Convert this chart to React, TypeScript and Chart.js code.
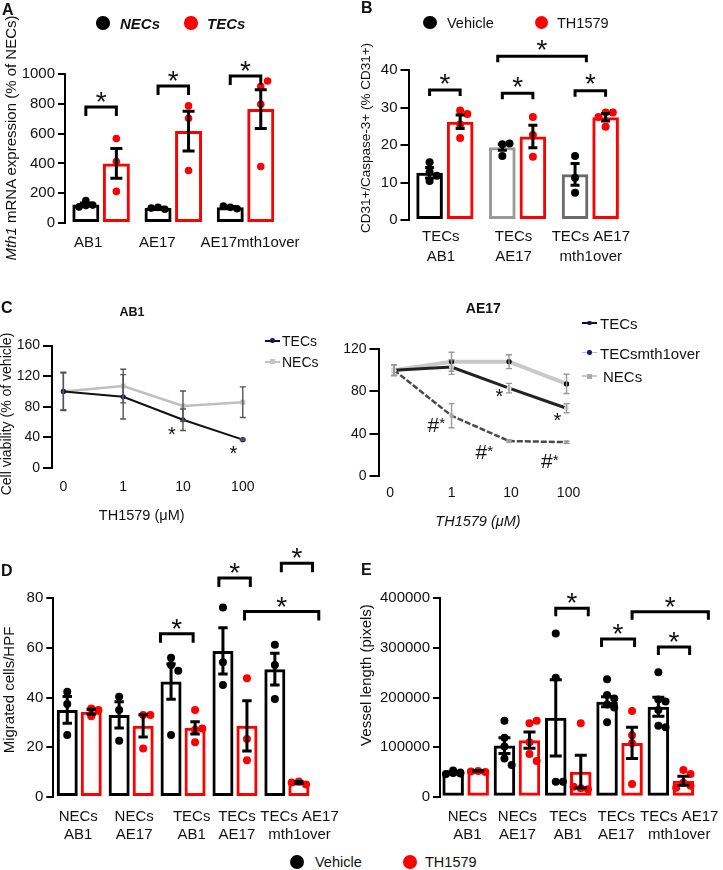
import React, { useEffect, useRef } from 'react';
import { Chart, registerables } from 'chart.js';
Chart.register(...registerables);

const FONT = "'Liberation Sans', Arial, Helvetica, sans-serif";
const RED = '#ff0000';

// ---------------- Panel A ----------------
const aGroups = ['AB1', 'AE17', 'AE17mth1over'];
const aNecMean = [125, 100, 105];
const aNecSem = [9, 5, 5];
const aTecMean = [400, 617, 765];
const aTecSem = [100, 133, 130];
const aNecPts = [[150, 120, 108, 118], [105, 92, 100], [105, 96, 114]];
const aTecPts = [[567, 413, 212], [786, 703, 352], [915, 953, 797, 379]];

// ---------------- Panel B ----------------
const bGroups = [['TECs', 'AB1'], ['TECs', 'AE17'], ['TECs AE17', 'mth1over']];
const bVehMean = [12.6, 19.4, 12.2];
const bVehSem = [1.4, 0.8, 2.9];
const bThMean = [26.2, 22.3, 27.4];
const bThSem = [1.8, 3.0, 1.0];
const bVehPts = [[15.4, 12.8, 10.4, 11.8], [17.1, 20.2, 20.4], [17.1, 11.3, 7.3]];
const bThPts = [[29.2, 28.3, 25.5, 21.9], [27.5, 22.7, 16.9], [28.7, 28.7, 27.5, 24.9]];
const bVehColors = ['#000000', '#999999', '#6b6b6b'];

// ---------------- Panel C ----------------
const doses = ['0', '1', '10', '100'];
const cAb1Tec = [100, 93, 63, 37];
const cAb1TecErr = [24, 29, 14, 1];
const cAb1Nec = [100, 107, 81, 86];
const cAb1NecErr = [25, 22, 19.6, 20];
const cAe17Tec = [100, 103, 83, 64];
const cAe17TecErr = [5, 7, 4.5, 4.3];
const cAe17Mth = [100, 57, 33, 32];
const cAe17MthErr = [5, 11.4, 1, 1];
const cAe17Nec = [100, 108, 108, 87];
const cAe17NecErr = [5, 9, 6.5, 9.1];

// ---------------- Panel D ----------------
const dGroups = [['NECs', 'AB1'], ['NECs', 'AE17'], ['TECs', 'AB1'], ['TECs', 'AE17'], ['TECs AE17', 'mth1over']];
const dVehMean = [35, 33, 46.4, 58.7, 51.4];
const dVehSem = [5.4, 5.3, 7.1, 9.3, 6.4];
const dThMean = [34.3, 28.6, 27.8, 28.6, 5.8];
const dThSem = [1.0, 4.5, 2.5, 10.1, 0.4];
const dVehPts = [[42.3, 37.4, 24.9], [40.3, 35, 22.6], [56, 53.1, 50.8, 24.9], [76.2, 54.2, 45], [61.2, 53.1, 39.4]];
const dThPts = [[35.6, 32.5, 35.0], [33, 33, 19.5], [35, 27, 27.5, 22], [47.7, 23.3, 14.8], [6.2, 5.0, 5.8]];

// ---------------- Panel E ----------------
const eGroups = [['NECs', 'AB1'], ['NECs', 'AE17'], ['TECs', 'AB1'], ['TECs', 'AE17'], ['TECs AE17', 'mth1over']];
const eVehMean = [49000, 103000, 159000, 191500, 181400];
const eVehSem = [1500, 16000, 77000, 10000, 19000];
const eThMean = [52000, 114000, 50400, 108500, 32000];
const eThSem = [800, 16500, 33000, 31500, 9000];
const eVehPts = [
  [53000, 49000, 46000, 48000, 47000],
  [153000, 119000, 101000, 77000, 64000],
  [329000, 240000, 30000, 30000],
  [237000, 205000, 198000, 186000, 180000, 150000],
  [251000, 196000, 192000, 175000, 143000, 140000],
];
const eThPts = [
  [52000, 50000, 51000],
  [148000, 153000, 110000, 86000, 72000],
  [148000, 17000, 15000, 20000],
  [173000, 124000, 107600, 25600],
  [54000, 46000, 28000, 22000, 18000],
];

// ---------------- helpers ----------------
type Box = { left: number; top: number; width: number; height: number };
type Area = { left: number; top: number; right: number; bottom: number };
type Bracket = { from: [number, number]; to: [number, number]; y: number };
type Note = { x: number; y: number; text: string; size: number; sup?: boolean };

// horizontal pixel offsets so that overlapping dots sit side by side
function swarm(ys: number[], r: number, maxOff: number): number[] {
  const placed: { x: number; y: number }[] = [];
  const step = r * 1.8;
  const minD = r * 1.8;
  const cands = [0, step, -step, 2 * step, -2 * step].filter((c) => Math.abs(c) <= maxOff + 0.01);
  return ys.map((y) => {
    let best = 0;
    let bestD = -1;
    for (const c of cands) {
      const d = placed.reduce((m, p) => Math.min(m, Math.hypot(p.x - c, p.y - y)), Infinity);
      if (d >= minD) { best = c; break; }
      if (d > bestD) { bestD = d; best = c; }
    }
    placed.push({ x: best, y });
    return best;
  });
}

function drawStar(ctx: CanvasRenderingContext2D, cx: number, cy: number, size: number) {
  ctx.font = `${size}px ${FONT}`;
  ctx.textAlign = 'center';
  ctx.textBaseline = 'alphabetic';
  ctx.fillText('*', cx, cy + 0.58 * size);
}

function decor(o: any) {
  return {
    id: 'decor',
    beforeDraw(chart: any) {
      if (!o.labelShift) return;
      try {
        const items = chart.scales.x.getLabelItems();
        if (items.__shifted) return;
        items.forEach((it: any, i: number) => { it.options.translation[0] += o.labelShift[i] || 0; });
        items.__shifted = true;
      } catch (e) { /* ignore */ }
    },
    afterDatasetsDraw(chart: any) {
      const ctx: CanvasRenderingContext2D = chart.ctx;
      const ys = chart.scales.y;
      ctx.save();
      // individual points over the bars
      chart.data.datasets.forEach((ds: any, di: number) => {
        if (!ds.points) return;
        const meta = chart.getDatasetMeta(di);
        ctx.fillStyle = ds.dotColor;
        meta.data.forEach((el: any, g: number) => {
          const vals: number[] = ds.points[g] || [];
          const py = vals.map((v) => ys.getPixelForValue(v));
          const offs = swarm(py, o.dotR, el.width / 2 - o.dotR * 0.6);
          py.forEach((y, k) => {
            ctx.beginPath();
            ctx.arc(el.x + offs[k], y, o.dotR, 0, Math.PI * 2);
            ctx.fill();
          });
        });
      });
      // error bars
      chart.data.datasets.forEach((ds: any, di: number) => {
        if (!ds.errors) return;
        const meta = chart.getDatasetMeta(di);
        ctx.strokeStyle = o.errColor;
        ctx.lineWidth = o.errWidth;
        ctx.lineCap = 'butt';
        meta.data.forEach((el: any, i: number) => {
          const e = ds.errors[i];
          if (!e) return;
          const raw = ds.data[i];
          const v = typeof raw === 'number' ? raw : raw.y;
          const x = el.x;
          const y1 = ys.getPixelForValue(v + e);
          const y2 = ys.getPixelForValue(v - e);
          ctx.beginPath();
          ctx.moveTo(x, y1); ctx.lineTo(x, y2);
          ctx.moveTo(x - o.cap, y1); ctx.lineTo(x + o.cap, y1);
          ctx.moveTo(x - o.cap, y2); ctx.lineTo(x + o.cap, y2);
          ctx.stroke();
        });
      });
      ctx.fillStyle = '#111';
      // significance brackets: positions refer to [group, series] of the bars
      if (o.brackets) {
        const m0 = chart.getDatasetMeta(0).data;
        const m1 = chart.getDatasetMeta(1).data;
        const px = (p: [number, number]) => m0[p[0]].x + p[1] * (m1[p[0]].x - m0[p[0]].x);
        ctx.strokeStyle = '#000';
        ctx.lineWidth = 3;
        ctx.lineJoin = 'miter';
        o.brackets.forEach((b: Bracket) => {
          const x1 = px(b.from);
          const x2 = px(b.to);
          const y = ys.getPixelForValue(b.y);
          ctx.beginPath();
          ctx.moveTo(x1, y + o.tick);
          ctx.lineTo(x1, y);
          ctx.lineTo(x2, y);
          ctx.lineTo(x2, y + o.tick);
          ctx.stroke();
          drawStar(ctx, (x1 + x2) / 2, y - o.starGap, o.starSize);
        });
      }
      if (o.notes) {
        const xs = chart.scales.x;
        o.notes.forEach((n: Note) => {
          const x = xs.getPixelForValue(n.x);
          const y = ys.getPixelForValue(n.y);
          if (n.text === '*') {
            drawStar(ctx, x, y, n.size);
          } else {
            ctx.font = `${n.size}px ${FONT}`;
            ctx.textAlign = 'center';
            ctx.textBaseline = 'middle';
            ctx.fillText(n.text, x, y);
            if (n.sup) drawStar(ctx, x + n.size * 0.42, y - n.size * 0.3, n.size * 0.72);
          }
        });
      }
      ctx.restore();
    },
  };
}

function yAxis(area: Area, max: number, step: number, size: number, tickLen: number) {
  return {
    type: 'linear',
    min: 0,
    max,
    ticks: { stepSize: step, font: { family: FONT, size }, color: '#111', padding: 3, callback: (v: any) => String(v) },
    border: { display: true, color: '#000', width: 2 },
    grid: { display: true, drawOnChartArea: false, drawTicks: true, tickLength: tickLen, color: '#000', lineWidth: 2 },
    afterFit: (s: any) => { s.width = area.left; },
  };
}

function baseOptions(box: Box, area: Area) {
  return {
    responsive: false,
    animation: false,
    devicePixelRatio: 1,
    events: [],
    layout: { padding: { left: 0, top: area.top, right: box.width - area.right, bottom: 0 } },
    plugins: { legend: { display: false }, tooltip: { enabled: false }, title: { display: false } },
  };
}

type BarCfg = {
  box: Box; area: Area; labels: any[]; yMax: number; yStep: number;
  means: number[][]; sems: number[][]; pts: number[][][];
  barColors: any[]; dotColors: string[];
  catPct: number; barPct: number; dotR: number; cap: number;
  brackets: Bracket[]; tick: number; starGap: number; starSize: number;
  xPad: number; lineHeight: number; tickLen: number; labelShift: number[];
};

function makeBarChart(canvas: HTMLCanvasElement, c: BarCfg) {
  const datasets = [0, 1].map((s) => ({
    type: 'bar', data: c.means[s], errors: c.sems[s], points: c.pts[s], dotColor: c.dotColors[s],
    borderColor: c.barColors[s], backgroundColor: 'rgba(255,255,255,0)', borderWidth: 3,
    borderSkipped: false, categoryPercentage: c.catPct, barPercentage: c.barPct,
  }));
  return new Chart(canvas, {
    type: 'bar',
    data: { labels: c.labels, datasets },
    options: {
      ...baseOptions(c.box, c.area),
      scales: {
        x: {
          type: 'category', offset: true,
          grid: { display: false, drawTicks: false }, border: { display: false },
          ticks: { font: { family: FONT, size: 15, lineHeight: c.lineHeight }, color: '#111', padding: c.xPad, maxRotation: 0, minRotation: 0, autoSkip: false },
          afterFit: (s: any) => { s.height = c.box.height - c.area.bottom; },
        },
        y: yAxis(c.area, c.yMax, c.yStep, 15, c.tickLen),
      },
    } as any,
    plugins: [decor({
      errColor: '#000', errWidth: 3, cap: c.cap, dotR: c.dotR, brackets: c.brackets,
      tick: c.tick, starGap: c.starGap, starSize: c.starSize, labelShift: c.labelShift,
    })],
  } as any);
}

type LineCfg = {
  box: Box; area: Area; xMin: number; xMax: number; yMax: number; yStep: number;
  datasets: any[]; notes: Note[]; errColor: string; xPad: number; labelShift?: number[];
};

function makeLineChart(canvas: HTMLCanvasElement, c: LineCfg) {
  return new Chart(canvas, {
    type: 'line',
    data: { datasets: c.datasets },
    options: {
      ...baseOptions(c.box, c.area),
      scales: {
        x: {
          type: 'linear', min: c.xMin, max: c.xMax, bounds: 'data', offset: false,
          grid: { display: false, drawTicks: false }, border: { display: false },
          afterBuildTicks: (s: any) => { s.ticks = doses.map((_, i) => ({ value: i })); },
          ticks: { font: { family: FONT, size: 14 }, color: '#111', padding: c.xPad, maxRotation: 0, autoSkip: false, callback: (v: any) => doses[v] },
          afterFit: (s: any) => { s.height = c.box.height - c.area.bottom; },
        },
        y: yAxis(c.area, c.yMax, c.yStep, 14, 9),
      },
    } as any,
    plugins: [decor({ errColor: c.errColor, errWidth: 1.4, cap: 3, notes: c.notes, labelShift: c.labelShift })],
  } as any);
}

const pts = (vals: number[]) => vals.map((v, i) => ({ x: i, y: v }));

// ---------------- panel configs ----------------
const cfgA: BarCfg = {
  box: { left: 0, top: 0, width: 360, height: 290 },
  area: { left: 65, top: 74, right: 281.6, bottom: 223 },
  labels: aGroups, yMax: 1000, yStep: 200,
  means: [aNecMean, aTecMean], sems: [aNecSem, aTecSem], pts: [aNecPts, aTecPts],
  barColors: ['#000', RED], dotColors: ['#000', RED],
  catPct: 0.845, barPct: 0.885, dotR: 3.8, cap: 6,
  brackets: [
    { from: [0, 0], to: [0, 1], y: 779 },
    { from: [1, 0], to: [1, 1], y: 919 },
    { from: [2, 0], to: [2, 1], y: 987 },
  ],
  tick: 9, starGap: 12, starSize: 28, xPad: 11, lineHeight: 1.2, tickLen: 7,
  labelShift: [-13, -16, 4.5],
};

const cfgB: BarCfg = {
  box: { left: 360, top: 0, width: 363, height: 290 },
  area: { left: 48.5, top: 70, right: 266.7, bottom: 220 },
  labels: bGroups, yMax: 40, yStep: 10,
  means: [bVehMean, bThMean], sems: [bVehSem, bThSem], pts: [bVehPts, bThPts],
  barColors: [bVehColors, RED], dotColors: ['#000', RED],
  catPct: 0.84, barPct: 0.87, dotR: 4, cap: 4.5,
  brackets: [
    { from: [0, 0], to: [0, 1], y: 34.7 },
    { from: [1, 0], to: [1, 1], y: 33.8 },
    { from: [2, 0], to: [2, 1], y: 34.5 },
    { from: [1, -0.15], to: [2, 0.37], y: 43.7 },
  ],
  tick: 6, starGap: 13.5, starSize: 28, xPad: 7.7, lineHeight: 1.28, tickLen: 8,
  labelShift: [-4, -4, 0.5],
};

const cfgD: BarCfg = {
  box: { left: 0, top: 540, width: 360, height: 310 },
  area: { left: 53.3, top: 58, right: 312.8, bottom: 257 },
  labels: dGroups, yMax: 80, yStep: 20,
  means: [dVehMean, dThMean], sems: [dVehSem, dThSem], pts: [dVehPts, dThPts],
  barColors: ['#000', RED], dotColors: ['#000', RED],
  catPct: 0.925, barPct: 0.875, dotR: 4, cap: 4.7,
  brackets: [
    { from: [2, -0.44], to: [2, 0.92], y: 65.6 },
    { from: [3, -0.17], to: [3, 1.14], y: 88 },
    { from: [4, 0.27], to: [4, 1.57], y: 94 },
    { from: [3, 0.9], to: [4, 1.83], y: 74.6 },
  ],
  tick: 9, starGap: 12, starSize: 28, xPad: 10.9, lineHeight: 1.22, tickLen: 7,
  labelShift: [-1, 3, 8.6, 2, 12.7],
};

const cfgE: BarCfg = {
  box: { left: 360, top: 540, width: 363, height: 310 },
  area: { left: 80, top: 58.3, right: 342.5, bottom: 256.7 },
  labels: eGroups, yMax: 400000, yStep: 100000,
  means: [eVehMean, eThMean], sems: [eVehSem, eThSem], pts: [eVehPts, eThPts],
  barColors: ['#000', RED], dotColors: ['#000', RED],
  catPct: 0.975, barPct: 0.86, dotR: 4, cap: 6,
  brackets: [
    { from: [2, 0], to: [2, 1.3], y: 380000 },
    { from: [3, -0.22], to: [3, 1.1], y: 318000 },
    { from: [4, 0], to: [4, 1.25], y: 302000 },
    { from: [3, 1], to: [4, 2], y: 373000 },
  ],
  tick: 8, starGap: 12, starSize: 28, xPad: 10.9, lineHeight: 1.22, tickLen: 7,
  labelShift: [1.7, 0.5, -0.3, -3.3, 8.3],
};

const cfgCL: LineCfg = {
  box: { left: 0, top: 295, width: 330, height: 240 },
  area: { left: 52, top: 50.5, right: 260, bottom: 173 },
  xMin: -0.19, xMax: 3.288, yMax: 160, yStep: 40, errColor: '#555', xPad: 10.3,
  datasets: [
    { label: 'TECs', data: pts(cAb1Tec), errors: cAb1TecErr, borderColor: '#111', borderWidth: 2, pointRadius: 2.6, pointBackgroundColor: '#14146e', pointBorderWidth: 0, tension: 0, order: 0 },
    { label: 'NECs', data: pts(cAb1Nec), errors: cAb1NecErr, borderColor: '#bfbfbf', borderWidth: 2.5, pointStyle: 'rect', pointRadius: 3.5, pointBackgroundColor: '#bfbfbf', pointBorderWidth: 0, tension: 0, order: 1 },
  ],
  notes: [
    { x: 1.813, y: 50.6, text: '*', size: 20 },
    { x: 2.842, y: 25.8, text: '*', size: 20 },
  ],
};

const cfgCR: LineCfg = {
  box: { left: 320, top: 295, width: 403, height: 240 },
  area: { left: 58.5, top: 54, right: 265, bottom: 181 },
  xMin: -0.27, xMax: 3.321, yMax: 120, yStep: 40, errColor: '#9a9a9a', xPad: 8.9,
  labelShift: [-4, 0, 2, 2],
  datasets: [
    { label: 'TECs', data: pts(cAe17Tec), errors: cAe17TecErr, borderColor: '#222', borderWidth: 3, pointRadius: 2.5, pointBackgroundColor: '#e0e0e0', pointBorderWidth: 0, tension: 0, order: 0 },
    { label: 'TECsmth1over', data: pts(cAe17Mth), errors: cAe17MthErr, borderColor: '#4a4a4a', borderWidth: 2.5, borderDash: [6, 2], pointStyle: 'rect', pointRadius: 3, pointBackgroundColor: '#b8b8b8', pointBorderWidth: 0, tension: 0, order: 1 },
    { label: 'NECs', data: pts(cAe17Nec), errors: cAe17NecErr, borderColor: '#c8c8c8', borderWidth: 4, pointStyle: ['rect', 'circle', 'circle', 'circle'], pointRadius: [3.5, 2.6, 2.6, 2.6], pointBackgroundColor: ['#aaaaaa', '#000', '#000', '#000'], pointBorderWidth: 0, tension: 0, order: 2 },
  ],
  notes: [
    { x: 1.832, y: 79.8, text: '*', size: 20 },
    { x: 2.839, y: 57.7, text: '*', size: 20 },
    { x: 0.683, y: 47.4, text: '#', size: 21, sup: true },
    { x: 1.517, y: 21.1, text: '#', size: 21, sup: true },
    { x: 2.658, y: 12.9, text: '#', size: 21, sup: true },
  ],
};

// ---------------- components ----------------
function ChartCanvas({ box, make }: { box: Box; make: (c: HTMLCanvasElement) => Chart }) {
  const ref = useRef<HTMLCanvasElement>(null);
  useEffect(() => {
    const ch = make(ref.current as HTMLCanvasElement);
    return () => ch.destroy();
  }, []);
  return (
    <canvas
      ref={ref}
      width={box.width}
      height={box.height}
      style={{ position: 'absolute', left: box.left, top: box.top, width: box.width, height: box.height }}
    />
  );
}

function Txt({ x, y, size = 15, bold = false, italic = false, align = 'left', children }: any) {
  const tx = align === 'center' ? 'translateX(-50%)' : align === 'right' ? 'translateX(-100%)' : 'none';
  return (
    <div
      style={{
        position: 'absolute', left: x, top: y - size / 2, fontSize: size, lineHeight: `${size}px`,
        fontWeight: bold ? 700 : 400, fontStyle: italic ? 'italic' : 'normal', whiteSpace: 'nowrap',
        transform: tx, color: '#111',
      }}
    >
      {children}
    </div>
  );
}

function VTxt({ x, y, size = 15, children }: any) {
  return (
    <div
      style={{
        position: 'absolute', left: x, top: y, fontSize: size, lineHeight: `${size}px`, whiteSpace: 'nowrap',
        transform: 'translate(-50%, -50%) rotate(-90deg)', color: '#111',
      }}
    >
      {children}
    </div>
  );
}

function Dot({ x, y, r, color }: any) {
  return <div style={{ position: 'absolute', left: x - r, top: y - r, width: 2 * r, height: 2 * r, borderRadius: '50%', background: color }} />;
}

function LegLine({ x1, x2, y, color, width, marker, mColor, mSize }: any) {
  return (
    <>
      <div style={{ position: 'absolute', left: x1, top: y - width / 2, width: x2 - x1, height: width, background: color }} />
      <div
        style={{
          position: 'absolute', left: (x1 + x2) / 2 - mSize / 2, top: y - mSize / 2, width: mSize, height: mSize,
          background: mColor, borderRadius: marker === 'circle' ? '50%' : 0,
        }}
      />
    </>
  );
}

export default function App() {
  return (
    <div
      style={{
        position: 'absolute', left: 0, top: 0, width: 723, height: 870, background: '#fff',
        fontFamily: FONT, color: '#111', overflow: 'hidden',
      }}
    >
      <ChartCanvas box={cfgA.box} make={(cv) => makeBarChart(cv, cfgA)} />
      <ChartCanvas box={cfgB.box} make={(cv) => makeBarChart(cv, cfgB)} />
      <ChartCanvas box={cfgCL.box} make={(cv) => makeLineChart(cv, cfgCL)} />
      <ChartCanvas box={cfgCR.box} make={(cv) => makeLineChart(cv, cfgCR)} />
      <ChartCanvas box={cfgD.box} make={(cv) => makeBarChart(cv, cfgD)} />
      <ChartCanvas box={cfgE.box} make={(cv) => makeBarChart(cv, cfgE)} />

      {/* panel letters */}
      <Txt x={2} y={10} size={16} bold>A</Txt>
      <Txt x={361} y={8} size={16} bold>B</Txt>
      <Txt x={1} y={307.5} size={16} bold>C</Txt>
      <Txt x={1} y={571} size={16} bold>D</Txt>
      <Txt x={361} y={570} size={16} bold>E</Txt>

      {/* legend A */}
      <Dot x={103} y={23} r={6.7} color="#000" />
      <Txt x={120} y={23} size={15} bold italic>NECs</Txt>
      <Dot x={191} y={23} r={6.7} color={RED} />
      <Txt x={207} y={23} size={15} bold italic>TECs</Txt>

      {/* legend B */}
      <Dot x={430} y={22.7} r={6.8} color="#000" />
      <Txt x={447} y={23} size={14.5}>Vehicle</Txt>
      <Dot x={541.7} y={22.7} r={6.8} color={RED} />
      <Txt x={557} y={23} size={14.5}>TH1579</Txt>

      {/* axis titles */}
      <VTxt x={10} y={138} size={15}><i>Mth1</i> mRNA expression (% of NECs)</VTxt>
      <VTxt x={366} y={138} size={13.5}>CD31+/Caspase-3+ (% CD31+)</VTxt>
      <VTxt x={6} y={414} size={14}>Cell viability (% of vehicle)</VTxt>
      <VTxt x={8} y={690} size={15}>Migrated cells/HPF</VTxt>
      <VTxt x={365} y={675} size={15}>Vessel length (pixels)</VTxt>

      {/* C titles */}
      <Txt x={132} y={312} size={12.5} bold align="center">AB1</Txt>
      <Txt x={483.3} y={308.3} size={14} bold align="center">AE17</Txt>
      <Txt x={141.7} y={515} size={14.5} align="center">TH1579 (μM)</Txt>
      <Txt x={478} y={521.7} size={14.5} italic align="center">TH1579 (μM)</Txt>

      {/* C left legend */}
      <LegLine x1={265} x2={280} y={340.7} color="#111" width={2} marker="circle" mColor="#14146e" mSize={4.5} />
      <Txt x={282} y={341} size={14}>TECs</Txt>
      <LegLine x1={265} x2={280} y={361.7} color="#c4c4c4" width={2} marker="rect" mColor="#c4c4c4" mSize={5} />
      <Txt x={282} y={362} size={14}>NECs</Txt>

      {/* C right legend */}
      <LegLine x1={582} x2={597} y={323} color="#111" width={2} marker="circle" mColor="#14146e" mSize={4.5} />
      <Txt x={600} y={323.5} size={15}>TECs</Txt>
      <LegLine x1={582} x2={597} y={352.7} color="#a9c1e0" width={1.5} marker="circle" mColor="#14146e" mSize={4.5} />
      <Txt x={600} y={353} size={15}>TECsmth1over</Txt>
      <LegLine x1={582} x2={597} y={376} color="#c8c8c8" width={2} marker="rect" mColor="#aaaaaa" mSize={5} />
      <Txt x={603} y={376.5} size={15}>NECs</Txt>

      {/* bottom legend */}
      <Dot x={297} y={862} r={7} color="#000" />
      <Txt x={315} y={862} size={14.5}>Vehicle</Txt>
      <Dot x={410} y={862} r={7} color={RED} />
      <Txt x={425} y={862} size={14.5}>TH1579</Txt>
    </div>
  );
}
